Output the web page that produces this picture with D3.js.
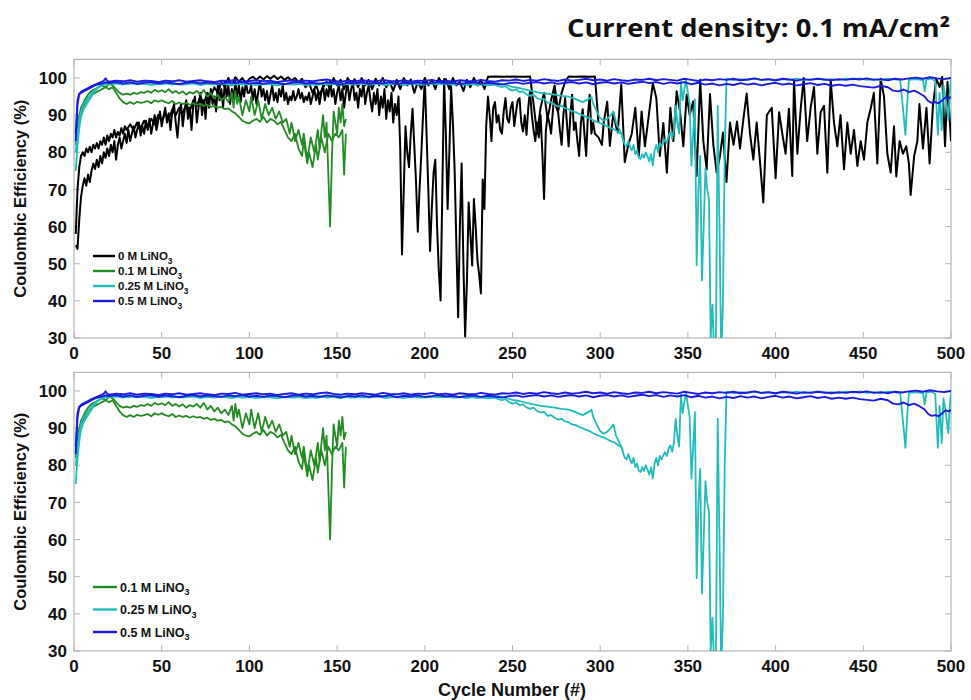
<!DOCTYPE html>
<html><head><meta charset="utf-8">
<script src="https://cdn.jsdelivr.net/npm/d3@7"></script>
<style>body{margin:0;background:#fff}</style>
</head><body>
<svg id="chart" width="971" height="700"></svg>
<script>
// ---------------- DATA (cycle, coulombic efficiency %) ----------------
const xTicks = [0,50,100,150,200,250,300,350,400,450,500];
const yTicks = [30,40,50,60,70,80,90,100];
const titleText = "Current density: 0.1 mA/cm\u00B2";
const legendTop = ["0 M LiNO","0.1 M LiNO","0.25 M LiNO","0.5 M LiNO"];
const legendBottom = ["0.1 M LiNO","0.25 M LiNO","0.5 M LiNO"];

// 0 M LiNO3, cell A (upper path)
const black1 = [[1,58],[2,70],[3,76],[4,79],[5,80],[6,79],[7,81],[8,80],[9,81.5],[10,80],[11,82],[12,81],[13,82.5],[14,81],[15,83],[16,82],[17,84],[18,82],[19,84.5],[20,83],[21,85],[22,84],[23,86],[24,84],[25,85.5],[26,84.5],[27,86.5],[28,85],[29,87],[30,86],[32,87.5],[34,86],[36,88],[38,86.5],[40,88.5],[42,87],[44,89],[46,87.5],[48,90],[50,88.5],[52,90.5],[54,89],[56,91.5],[58,90],[60,92],[62,90.5],[64,93],[66,91],[68,94],[70,92.5],[72,95],[74,93],[76,96],[78,95],[80,97.5],[82,96],[84,99],[86,97.5],[88,100],[90,98],[92,100.2],[94,99],[96,100],[98,98.5],[100,99.8],[102,100.3],[104,99.5],[106,100.4],[108,99.6],[110,100.5],[112,99.8],[114,100.6],[116,99.7],[118,100.4],[120,99.5],[122,100.2],[124,99.3],[126,100],[128,98.8],[130,99.8],[132,97.5],[134,98.8],[136,96],[138,98],[140,95.5],[142,97.5],[144,99],[146,97],[148,100],[150,98],[152,99.5],[154,97],[156,100],[158,98.5],[160,99.7],[162,97.5],[164,100],[166,98],[168,99.5],[170,97],[172,99.8],[174,98],[176,100],[178,97.5],[180,99],[182,96.5],[184,99.5],[186,97],[188,100],[190,98],[192,99.6],[194,96],[196,99],[198,97],[200,100],[202,98],[204,99.5],[206,97],[208,100],[210,98.5],[212,99.7],[214,97],[216,100],[218,98],[220,99],[222,96.5],[224,99.5],[226,97.5],[228,100],[230,98],[232,99.5],[234,97],[236,100.3],[240,100.4],[245,100.3],[250,100.4],[255,100.3],[260,100.4],[262,93],[264,85],[266,92],[268,96],[270,89],[272,94],[274,98],[276,91],[278,96],[280,99],[282,100.4],[286,100.3],[290,100.4],[294,100.3],[297,100.4],[299,88]];

// 0 M LiNO3, cell B (lower, noisy, full length)
const black2 = [[1,55],[2,54],[3,62],[4,68],[5,71],[6,73],[7,71],[8,74],[9,72],[10,75],[11,77],[12,75.5],[13,78],[14,76],[15,79],[16,77],[17,80],[18,78.5],[19,81],[20,79],[21,82],[22,80],[23,83],[24,78],[25,82],[26,84],[27,81],[28,83],[29,85],[30,82.5],[31,86],[32,83],[33,85],[34,87],[35,84],[36,86],[37,88],[38,84.5],[39,87],[40,85],[41,88.5],[42,86],[43,89],[44,85],[45,87.5],[46,90],[47,86],[48,88.5],[49,91],[50,87],[51,89.5],[52,92],[53,88],[54,90.5],[55,86],[56,91],[57,93],[58,88],[59,84],[60,90],[61,93],[62,87],[63,91],[64,94],[65,89],[66,92],[67,86],[68,93],[69,95],[70,88],[71,92],[72,96],[73,90],[74,94],[75,89],[76,96],[77,92],[78,97],[79,93],[80,95],[81,91],[82,98],[83,94],[84,97],[85,92],[86,99],[87,95],[88,98],[89,93],[90,97],[91,94.5],[92,99],[93,95],[94,98],[95,93.5],[96,97.5],[97,95],[98,99],[99,96],
[100,96],[101,98],[102,94],[103,97],[104,93],[105,96],[106,99],[107,95],[108,97],[109,94],[110,96.5],[111,93],[112,95.5],[113,98],[114,94],[115,96],[116,93.5],[117,97],[118,95],[119,98],[120,94],[121,96],[122,93],[123,95],[124,94],[125,96.5],[126,94],[127,95],[128,97],[129,94.5],[130,96],[131,93.5],[132,95],[133,94],[134,96],[135,93],[136,95],[137,97],[138,94],[139,96],[140,93],[141,96],[142,98],[143,94],[144,97],[145,95],[146,99],[147,95],[148,97],[149,93],[150,96],[151,98],[152,94],[153,97],[154,92],[155,96],[156,98.5],[157,94],[158,97],[159,99],[160,94],[161,96],[162,92],[163,97],[164,95],[165,99],[166,93],[167,96],[168,98],[169,94],[170,91],[171,96],[172,93],[173,97],[174,90],[175,95],[176,92],[177,97],[178,89],[179,94],[180,91],[181,96],[182,88],[183,93],[184,90],[185,95],[186,81],
[187,52.5],[188,70],[189,87],[190,80],[191,76],[192,85],[193,91.7],[194,82],[195,72],[196,58.6],[197,70],[198,79.4],[199,90],[200,100],[201,85],[202,70],[203,53.4],[204,65],[205,74.5],[206,78],[207,60],[208,48],[209,40.1],[210,70],[211,99.7],[212,85],[213,64.7],[214,80],[215,97.6],[216,88],[217,75.4],[218,55],[219,35.6],[220,60],[221,77],[222,50],[223,30.4],[224,45],[225,66.5],[226,58],[227,49.5],[228,67.4],[229,60],[230,51],[231,47],[232,42],[233,72.7],[234,64.7],[235,87],
[236,95],[237,90],[238,83],[239,92],[240,93.5],[241,88],[242,90],[243,86],[244,85],[245,91],[246,94.6],[247,89],[248,88],[249,92],[250,93.5],[251,87],[252,90.8],[253,94],[254,94.6],[255,88],[256,85.6],[257,90],[258,84.7],[259,92],[260,96.5],[261,90],[262,86],[263,83],[264,88],[265,84],[266,90],[267,80],[268,67.4],[269,85.6],[270,90],[271,88],[272,85],[273,91],[274,96.5],[275,92],[276,90.8],[277,86],[278,82],[279,90],[280,94.6],[281,88],[282,81.6],[283,90],[284,95.5],[285,86],[286,88],[287,83],[288,79],[289,88],[290,91.6],[291,85],[292,79],[293,90],[294,95.5],[295,85],[296,88],[297,85],
[299,84],[301,82],[302,88],[304,93.6],[305.5,81.7],[307.5,90.7],[309,87],[310,85.3],[312,98.3],[314,77.3],[316,82],[318,85],[320,92],[322,79],[323.6,91],[325.5,81.6],[327.4,88.8],[330,98.6],[332,94.6],[334,79],[336,87.9],[338,74.5],[340,92],[341.7,83],[343.6,96.4],[345.5,91],[347.4,81.6],[349.3,95.5],[351,90],[353,93.7],[355,73.6],[357,99.5],[358.8,83],[360.7,75.4],[362.6,95.7],[364.5,82],[366.4,74.5],[368.3,79],[370,85.3],[372,72],[374,88],[376,82],[378,88.3],[379.7,81],[381.6,88.8],[383.5,95.8],[385.4,85],[387.3,78],[389.2,88],[391,78],[393,66.5],[395,90],[397.8,92],
[400,73],[402,90.8],[403.8,85],[405.7,79.6],[407.6,91.7],[409.5,73.6],[410.5,99.5],[412.4,79.6],[414.3,91.7],[416,100],[418,83],[420,92],[421.9,97.6],[423.8,79.6],[425.7,90.8],[427.6,92.5],[429.5,74.5],[431.4,99.5],[433.3,87.9],[435.2,81.6],[437,90],[439,75.4],[440.9,88],[442.8,79.6],[444.7,86],[446.6,76.3],[448.5,83],[450.4,78],[452.3,88],[454.2,91.7],[456,96],[458,77],[459.9,99.8],[461.8,95],[463.7,79.6],[465.6,74.5],[467.5,87],[468.8,73.5],[470.7,83],[472.6,79.6],[474.5,81.6],[476,77],[477,68.5],[479,79],[480.8,83],[482,93],[484,81],[486,92],[487.8,77],[489.7,92.5],[491.6,99.8],[493.5,97.6],[495,100.3],[496.6,81.6],[498,99],[500,83]];

// 0.1 M LiNO3, two cells
const green1 = [[1,83],[2,87],[3,90],[4,92],[6,94],[8,95.5],[10,96.5],[12,97],[14,97.5],[16,98],[18,97.5],[20,98.5],[22,98],[24,97],[26,96],[28,95.5],[30,95.8],[32,95.5],[34,96],[36,95.7],[38,96.2],[40,96],[42,96.5],[44,96],[46,96.8],[48,96.3],[50,96.7],[52,96.2],[54,97],[56,96],[58,96.5],[60,95.8],[62,96.4],[64,95.5],[66,96.2],[68,95.8],[70,96.5],[72,95.5],[74,96.8],[76,95],[78,96],[80,94.5],[82,95.5],[84,94],[86,95],[88,93.5],[90,96],[91,92],[92,96.5],[93,93],[94,95],[96,90],[98,94],[100,91],[101,95],[103,90],[105,94],[107,89],[109,93],[111,90],[113,92],[115,89],[117,91],[119,88],[121,89],[123,85],[124,88],[126,83],[128,86],[130,82],[131,85],[133,78],[135,84],[137,80],[139,86],[140,81],[142,90],[143,84],[144,88],[146,60],[147,78],[148,91],[150,85],[151,92],[152,88],[153,93],[154,87],[155,89]];
const green2 = [[1,82],[2,86],[3,89],[4,91],[6,93],[8,94.5],[10,95.5],[12,96],[14,96.5],[16,97],[18,97.5],[20,97],[22,97.5],[24,96],[26,94.5],[28,93.5],[30,93],[32,93.5],[34,93],[36,93.6],[38,93.3],[40,93.5],[42,93.8],[44,93.2],[46,94],[48,93.6],[50,94],[52,93.5],[54,93.2],[56,93.8],[58,93],[60,93.4],[62,93],[64,93.3],[66,92.8],[68,93.2],[70,92.8],[72,93],[74,92.5],[76,92.8],[78,92.2],[80,92.5],[82,92],[84,92.2],[86,91.6],[88,91.8],[90,91],[92,90.5],[94,89.5],[96,88.5],[98,88],[100,87.8],[102,88.5],[104,89],[106,88.2],[108,89.5],[110,88],[112,89],[114,88.5],[116,87.5],[118,88.2],[120,86],[122,84],[124,83],[126,85],[128,81],[130,79],[131,83],[133,77],[134,80],[136,76],[138,82],[139,78],[141,84],[143,80],[145,85],[147,83],[149,85],[151,84],[153,86],[154,74],[155,85]];

// 0.25 M LiNO3, two cells
const cyan1 = [[1,75],[2,82],[3,86.5],[4,89.5],[5,91],[6,92],[7,92.8],[8,93.5],[9,94.3],[10,95],[11,95.8],[12,96.5],[13,97],[14,97.5],[15,97.8],[16,98.2],[17,98],[18,98.5],[19,98.2],[20,98.6],[24,98.5],[28,98.2],[32,98.6],[36,98.3],[40,98.5],[44,98.1],[48,98.4],[52,98.6],[56,98.2],[60,98.5],[64,98.3],[68,98.6],[72,98.1],[76,98.4],[80,98.2],[84,98.5],[88,98.3],[92,98.6],[96,98.2],[100,98.4],[104,98.1],[108,98.5],[112,98.3],[116,98.0],[120,98.4],[124,98.2],[128,98.5],[132,98.1],[136,98.3],[140,98.6],[144,98.2],[148,98.4],[152,98.1],[156,98.5],[160,98.3],[164,98.6],[168,98.2],[172,98.4],[176,98.7],[180,98.3],[184,98.5],[188,98.1],[192,98.4],[196,98.6],[200,98.2],[204,98.5],[208,98.3],[212,98.6],[216,98.2],[220,98.4],[224,98.1],[228,98.5],[232,98.3],[236,98.0],[240,98.2],[242,97.8],[244,97.5],[246,97.8],[248,97],[250,96.6],[252,96.9],[254,96.2],[256,96.4],[258,95.6],[260,95.2],[262,95.5],[264,94.6],[266,94.2],[268,94.4],[270,93.3],[272,93.5],[274,92.8],[276,92.3],[278,92.5],[280,91.8],[282,91.6],[284,91],[286,90.8],[288,90.3],[290,90],[292,89.5],[294,89.2],[296,88.6],[298,88.2],[300,87.8],[302,87.5],[304,87],[306,86.5],[308,86.2],[310,85.5],[312,85],[313,83.5],[314,82],[315,81.6],[316,83],[317,81.5],[318,80.5],[319,82],[320,79.5],[321,80.5],[322,78.5],[323,78.2],[324,79.5],[325,78.5],[326,80],[327,78.8],[328,77.5],[329,79.5],[330,76.4],[331,80.5],[332,82],[333,80],[334,82.5],[335,81.5],[336,82.7],[337,83.5],[338,82.5],[339,84.5],[340,85.4],[341,83.6],[342,86],[343,92.5],[344,88],[345,85],[346,99],[347,94],[348,97],[349,99.5],[350,96],[351,93],[352,76.4],[353,85],[354,94.3],[355,49.6],[356,70],[357,79],[358,45.5],[359,60],[360,75.7],[361,70],[362,67.5],[363,30],[364,39],[365,25],[366,30],[367,92.5],[368,60],[369,25],[370,40],[371,80],[372,99.8],[376,99.4],[380,99.7],[384,99.5],[388,99.8],[392,99.4],[396,99.6],[400,99.3],[404,99.7],[408,99.5],[412,99.8],[416,99.4],[420,99.6],[424,99.8],[428,99.5],[432,99.7],[436,99.4],[440,99.8],[444,99.6],[448,99.9],[452,99.5],[456,99.7],[460,99.4],[464,99.8],[468,99.6],[471,99.5],[473,90],[474,84.7],[475,93],[476,99.5],[480,99.7],[484,99.4],[485,96.4],[486,99.6],[489,99.8],[491,99.2],[492.5,84.7],[493.5,96],[494.7,86],[495.7,98],[496.6,95.5],[497.6,92],[498.5,88.6],[499.3,96],[500,99.6]];
const cyan2 = [[1,80],[2,85],[3,88.5],[4,91],[5,92.5],[6,93.5],[8,94.5],[10,95.8],[12,96.8],[14,97.6],[16,98.1],[18,98.4],[20,98.7],[22,98.4],[26,98.7],[30,98.3],[34,98.6],[38,98.4],[42,98.8],[46,98.5],[50,98.3],[54,98.7],[58,98.5],[62,98.2],[66,98.6],[70,98.4],[74,98.7],[78,98.3],[82,98.6],[86,98.4],[90,98.1],[94,98.5],[98,98.3],[102,98.6],[106,98.2],[110,98.5],[114,98.7],[118,98.3],[122,98.5],[126,98.2],[130,98.6],[134,98.4],[138,98.1],[142,98.5],[146,98.3],[150,98.6],[154,98.4],[158,98.2],[162,98.5],[166,98.3],[170,98.7],[174,98.4],[178,98.1],[182,98.5],[186,98.3],[190,98.6],[194,98.4],[198,98.2],[202,98.5],[206,98.7],[210,98.3],[214,98.5],[218,98.2],[222,98.6],[226,98.4],[230,98.1],[234,98.5],[238,98.3],[242,98.6],[246,98.2],[250,97.6],[254,97.3],[258,96.8],[262,96.4],[266,96],[270,95.8],[274,95.5],[278,95.2],[282,95],[286,94.3],[290,93.5],[294,94.5],[295,95],[296,93],[298,91],[300,89.2],[302,88.5],[304,89],[306,90],[307.5,91],[309,88],[311,86],[313,84]];

// 0.5 M LiNO3, two cells
const blue1 = [[1,83],[2,93],[3,95.5],[4,96.3],[5,96.6],[6,96.8],[8,97.3],[10,97.8],[12,98.2],[14,98.6],[16,99],[17,99.3],[18,99.9],[19,99.2],[20,99.0],[24,99.3],[28,99.1],[32,99.4],[36,99.0],[40,99.3],[44,99.2],[48,98.9],[52,99.3],[56,99.1],[60,99.4],[64,99.0],[68,99.2],[72,99.4],[76,99.1],[80,98.9],[84,99.3],[88,99.2],[92,99.5],[96,99.0],[100,99.2],[104,99.4],[108,99.1],[112,99.3],[116,98.9],[120,99.2],[124,99.4],[128,99.0],[132,99.3],[136,99.1],[140,99.4],[144,99.6],[148,99.2],[152,99.0],[156,99.3],[160,99.1],[164,99.4],[168,99.2],[172,99.0],[176,99.5],[180,99.2],[184,99.1],[188,99.4],[192,99.0],[196,99.3],[200,99.2],[204,99.5],[208,99.1],[212,99.3],[216,99.0],[220,99.4],[224,99.2],[228,99.1],[232,99.5],[236,99.2],[240,99.0],[244,99.4],[248,99.3],[252,99.6],[256,99.2],[260,99.5],[264,99.3],[268,99.7],[272,99.4],[276,99.2],[280,99.6],[284,99.3],[288,99.5],[292,99.8],[296,99.4],[300,99.6],[304,99.3],[308,99.7],[312,99.4],[316,99.2],[320,99.6],[324,99.5],[328,99.8],[332,99.4],[336,99.7],[340,99.5],[344,99.3],[348,99.8],[352,99.5],[356,99.2],[360,99.6],[364,99.4],[368,99.7],[372,99.5],[376,99.8],[380,99.4],[384,99.6],[388,99.9],[392,99.5],[396,99.7],[400,99.4],[404,99.8],[408,99.6],[412,99.3],[416,99.7],[420,99.5],[424,99.8],[428,99.6],[432,99.4],[436,99.7],[440,99.5],[444,99.8],[448,99.6],[452,99.9],[456,99.5],[460,99.7],[464,99.4],[468,99.8],[472,99.6],[476,99.9],[480,100.1],[484,99.8],[488,100.2],[492,99.9],[496,99.7],[500,100.0]];
const blue2 = [[1,85],[2,94],[3,95.8],[4,96],[6,96.5],[8,97],[10,97.5],[12,98],[14,98.3],[16,98.5],[18,98.8],[20,98.6],[24,98.9],[28,98.5],[32,98.8],[36,98.4],[40,98.7],[44,98.9],[48,98.5],[52,98.8],[56,98.6],[60,98.3],[64,98.7],[68,98.9],[72,98.5],[76,98.8],[80,98.6],[84,98.4],[88,98.8],[92,98.6],[96,98.9],[100,98.5],[104,98.7],[108,98.4],[112,98.8],[116,98.6],[120,98.3],[124,98.7],[128,98.9],[132,98.5],[136,98.7],[140,98.4],[144,98.8],[148,98.6],[152,98.2],[156,98.7],[160,98.5],[164,98.8],[168,98.4],[172,98.7],[176,98.5],[180,98.9],[184,98.3],[188,98.7],[192,98.5],[196,98.8],[200,98.4],[204,98.6],[208,98.9],[212,98.5],[216,98.7],[220,98.3],[224,98.6],[228,98.8],[232,98.4],[236,98.7],[240,98.5],[244,98.2],[248,98.6],[252,98.8],[256,98.4],[260,98.7],[264,98.9],[268,98.5],[272,98.8],[276,98.4],[280,98.7],[284,98.9],[288,98.5],[292,98.8],[296,98.3],[300,98.7],[304,98.9],[308,98.5],[312,98.8],[316,98.4],[320,98.7],[324,99.0],[328,98.6],[332,98.9],[336,98.4],[340,98.8],[344,98.5],[348,98.9],[352,98.3],[356,98.7],[360,98.2],[364,98.5],[368,98.0],[372,98.4],[376,98.1],[380,98.6],[384,98.2],[388,98.5],[392,98.0],[396,98.4],[400,98.7],[404,98.2],[408,98.5],[412,98.0],[416,98.3],[420,98.6],[424,98.1],[428,98.4],[432,97.9],[436,98.2],[440,97.9],[444,98.2],[448,97.8],[452,97.6],[456,97.4],[460,97.9],[464,97.5],[467,96.6],[470,96.4],[473,96.9],[476,96.2],[479,96.6],[482,95.9],[485,95.0],[487,93.8],[489,93.3],[491,93.5],[493,93.2],[495,94.0],[497,94.8],[499,94.5],[500,95.0]];

// ---------------- DRAWING ----------------
const C = {black:"#000000", green:"#228b22", cyan:"#22bcbc", blue:"#1c1ce0"};
const svg = d3.select("#chart");
const FONT = "'Liberation Sans', Arial, Helvetica, sans-serif";

const x = d3.scaleLinear().domain([0,500]).range([74,951]);

const panels = [
  {y0:338, y1:59.4, series:[
     {data:black1,color:C.black,w:2},{data:black2,color:C.black,w:2},
     {data:green1,color:C.green,w:1.8},{data:green2,color:C.green,w:1.8},
     {data:cyan1,color:C.cyan,w:1.8},{data:cyan2,color:C.cyan,w:1.8},
     {data:blue1,color:C.blue,w:1.9},{data:blue2,color:C.blue,w:1.9}],
   legend:{labels:legendTop, colors:[C.black,C.green,C.cyan,C.blue], y0:256, dy:15, lx0:93, lx1:115, tx:118, fs:11.5}},
  {y0:651, y1:372.4, series:[
     {data:green1,color:C.green,w:1.8},{data:green2,color:C.green,w:1.8},
     {data:cyan1,color:C.cyan,w:1.8},{data:cyan2,color:C.cyan,w:1.8},
     {data:blue1,color:C.blue,w:1.9},{data:blue2,color:C.blue,w:1.9}],
   legend:{labels:legendBottom, colors:[C.green,C.cyan,C.blue], y0:587, dy:22.5, lx0:93, lx1:117, tx:120, fs:12.5}}
];

panels.forEach((p,i) => {
  const y = d3.scaleLinear().domain([30,105]).range([p.y0,p.y1]);
  const g = svg.append("g");
  const clipId = "clip"+i;
  svg.append("clipPath").attr("id",clipId).append("rect")
    .attr("x",x(0)).attr("y",p.y1).attr("width",x(500)-x(0)).attr("height",p.y0-p.y1);

  // box
  g.append("rect").attr("x",x(0)).attr("y",p.y1).attr("width",x(500)-x(0)).attr("height",p.y0-p.y1)
    .attr("fill","#fff").attr("stroke","#b4b4b4").attr("stroke-width",1.2);

  // ticks (inward, all four sides)
  const tl = 6;
  xTicks.forEach(t => {
    g.append("line").attr("x1",x(t)).attr("x2",x(t)).attr("y1",p.y0).attr("y2",p.y0-tl).attr("stroke","#b4b4b4");
    g.append("line").attr("x1",x(t)).attr("x2",x(t)).attr("y1",p.y1).attr("y2",p.y1+tl).attr("stroke","#b4b4b4");
    g.append("text").attr("x",x(t)).attr("y",p.y0+21).attr("text-anchor","middle")
      .attr("font-family",FONT).attr("font-weight","bold").attr("font-size",17).attr("fill","#111").text(t);
  });
  yTicks.forEach(t => {
    g.append("line").attr("x1",x(0)).attr("x2",x(0)+tl).attr("y1",y(t)).attr("y2",y(t)).attr("stroke","#b4b4b4");
    g.append("line").attr("x1",x(500)).attr("x2",x(500)-tl).attr("y1",y(t)).attr("y2",y(t)).attr("stroke","#b4b4b4");
    g.append("text").attr("x",x(0)-7).attr("y",y(t)).attr("dy","0.36em").attr("text-anchor","end")
      .attr("font-family",FONT).attr("font-weight","bold").attr("font-size",17).attr("fill","#111").text(t);
  });

  // lines
  const line = d3.line().x(d=>x(d[0])).y(d=>y(d[1]));
  const lg = g.append("g").attr("clip-path",`url(#${clipId})`);
  p.series.forEach(s => {
    lg.append("path").datum(s.data).attr("d",line).attr("fill","none")
      .attr("stroke",s.color).attr("stroke-width",s.w).attr("stroke-linejoin","round");
  });

  // legend
  const L = p.legend;
  L.labels.forEach((lab,k) => {
    const yy = L.y0 + k*L.dy;
    g.append("line").attr("x1",L.lx0).attr("x2",L.lx1).attr("y1",yy).attr("y2",yy)
      .attr("stroke",L.colors[k]).attr("stroke-width",2.4);
    const t = g.append("text").attr("x",L.tx).attr("y",yy).attr("dy","0.36em")
      .attr("font-family",FONT).attr("font-weight","bold").attr("font-size",L.fs).attr("fill","#111");
    t.append("tspan").text(lab);
    t.append("tspan").attr("dy",L.fs*0.3).attr("font-size",L.fs*0.72).text("3");
  });

  // y label
  svg.append("text").attr("transform",`translate(26,${(p.y0+p.y1)/2}) rotate(-90)`)
    .attr("text-anchor","middle").attr("font-family",FONT).attr("font-weight","bold")
    .attr("font-size",16.5).attr("fill","#111").text("Coulombic Efficiency (%)");
});

// x label
svg.append("text").attr("x",512).attr("y",696).attr("text-anchor","middle")
  .attr("font-family",FONT).attr("font-weight","bold").attr("font-size",18).attr("fill","#111")
  .text("Cycle Number (#)");

// title
svg.append("text").attr("x",950).attr("y",37).attr("text-anchor","end")
  .attr("font-family","'Open Sans', 'Noto Sans', sans-serif").attr("font-weight","bold")
  .attr("font-size",25).attr("fill","#111")
  .attr("textLength",383).attr("lengthAdjust","spacingAndGlyphs")
  .text(titleText);
</script>
</body></html>
